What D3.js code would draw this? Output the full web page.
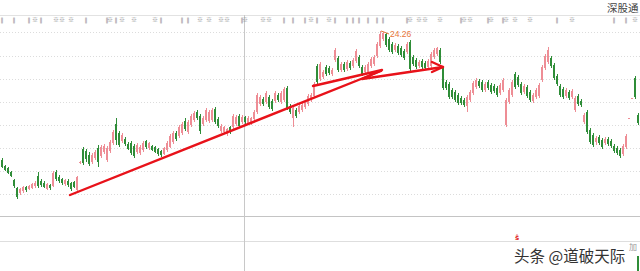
<!DOCTYPE html>
<html>
<head>
<meta charset="utf-8">
<script src="https://cdn.jsdelivr.net/npm/d3@7"></script>
<style>
  body { margin: 0; background: #fff; overflow: hidden; }
  svg { display: block; }
</style>
</head>
<body>
<script>
// daily candles (price scale has no labels, only the 24.26 peak)
const openP = [
  17.81,17.51,17.41,17.21,16.81,16.41,16.16,16.26,16.46,16.36,
  16.41,16.51,17.01,16.76,16.66,16.36,16.56,16.51,17.21,16.96,
  16.86,16.61,16.76,16.66,16.71,16.31,17.66,18.36,18.26,18.06,
  17.71,17.91,18.41,18.01,18.21,17.81,18.26,18.66,19.61,19.16,
  18.76,18.86,18.61,18.66,18.51,18.21,18.16,18.31,18.76,18.41,
  18.51,18.46,18.36,18.26,18.11,18.31,18.46,18.71,19.16,19.01,
  19.16,19.76,19.21,19.56,19.81,20.21,20.01,19.61,19.81,19.76,
  19.81,20.36,19.86,19.26,19.21,19.11,19.46,19.46,19.61,20.01,
  19.71,19.96,19.66,19.66,19.86,20.21,20.61,20.86,20.71,20.96,
  20.76,20.76,21.06,20.71,20.81,21.41,20.51,19.91,20.31,20.21,
  20.31,20.46,20.61,20.81,21.01,22.51,21.86,21.96,22.46,22.41,
  22.11,22.81,22.91,22.31,22.61,22.36,22.66,22.51,22.76,22.96,
  22.46,22.21,22.21,22.51,22.61,23.01,23.51,23.86,24.11,23.86,
  23.61,23.31,23.51,23.41,23.26,23.21,23.71,22.96,22.81,22.51,
  22.76,22.66,22.46,22.51,22.96,23.11,23.31,22.41,21.71,21.61,
  21.31,21.21,21.06,20.91,20.81,20.51,20.81,21.16,21.46,21.76,
  21.71,21.31,21.71,21.56,21.51,21.41,21.16,21.31,19.56,20.71,
  21.06,22.11,21.96,21.61,21.21,21.46,21.21,20.76,20.96,21.01,
  21.81,22.41,22.71,22.91,22.56,22.01,21.51,21.36,21.01,21.21,
  20.96,20.31,21.01,20.76,19.71,20.21,19.31,19.06,18.71,18.96,
  18.81,18.66,18.86,18.76,18.51,18.41,18.31,18.11,18.46,19.91,
  20.91,21.91,20.06
]
const highP = [
  17.91,17.56,17.46,17.26,16.86,16.46,16.41,16.51,16.51,16.56,
  16.66,16.76,17.21,16.86,16.76,16.66,16.61,17.26,17.31,17.06,
  16.91,16.86,16.86,16.71,16.76,17.01,17.76,18.46,18.36,18.21,
  18.16,18.31,18.56,18.56,18.61,18.51,18.81,19.31,19.91,19.26,
  19.16,18.96,18.71,18.76,18.61,18.66,18.56,18.76,18.81,18.71,
  18.56,18.51,18.41,18.31,18.46,18.76,19.11,19.26,19.26,19.56,
  19.71,19.91,19.81,20.11,20.26,20.31,20.11,20.01,20.41,20.31,
  20.41,20.46,19.96,19.61,19.51,19.41,19.51,20.11,20.06,20.11,
  20.06,20.01,20.01,19.96,20.31,21.16,21.06,20.96,21.26,21.06,
  20.86,21.26,21.16,21.26,21.46,21.51,20.61,20.51,20.41,20.61,
  20.66,20.81,21.11,21.16,21.71,22.61,22.71,22.31,22.56,22.51,
  22.41,23.41,23.01,22.71,22.71,22.81,22.76,22.91,23.36,23.06,
  22.56,22.56,22.71,22.96,23.06,23.71,24.26,24.21,24.16,23.96,
  23.71,23.66,23.61,23.51,23.36,23.71,23.81,23.06,22.91,22.81,
  22.86,22.76,22.86,23.21,23.41,23.46,23.41,22.51,21.81,21.71,
  21.41,21.31,21.16,21.01,20.91,21.06,21.31,21.76,21.91,21.86,
  21.81,21.71,21.81,21.66,21.61,21.51,21.66,21.91,20.91,21.41,
  21.81,22.21,22.06,21.71,21.61,21.56,21.31,21.16,21.41,21.66,
  22.56,23.11,23.46,23.01,22.66,22.11,21.61,21.46,21.41,21.31,
  21.36,21.01,21.11,20.86,20.16,20.31,19.41,19.16,19.01,19.06,
  18.91,18.96,18.96,18.86,18.61,18.51,18.41,18.61,19.11,19.91,
  20.91,22.01,20.16
]
const lowP = [
  17.41,17.26,17.11,16.96,16.41,15.86,16.06,16.16,16.21,16.31,
  16.36,16.41,16.41,16.46,16.41,16.31,16.31,16.46,16.76,16.66,
  16.56,16.51,16.46,16.26,16.41,16.26,17.61,17.56,17.71,17.51,
  17.61,17.81,17.46,17.91,18.11,17.71,18.16,18.56,18.56,18.46,
  18.66,18.51,18.31,18.06,17.91,18.11,18.06,18.21,18.36,18.31,
  18.26,18.16,18.01,17.96,18.06,18.21,18.41,18.61,18.76,18.91,
  19.06,19.26,19.11,19.46,19.71,19.81,19.11,19.51,19.71,19.66,
  19.71,19.61,19.41,19.16,19.11,19.01,19.11,19.36,19.51,19.41,
  19.61,19.61,19.56,19.56,19.76,20.11,20.51,20.51,20.61,20.36,
  20.26,20.66,20.71,20.61,20.71,20.31,20.11,19.46,19.91,20.11,
  20.21,20.36,20.51,20.71,20.91,21.61,21.76,21.86,22.01,22.06,
  22.01,22.71,22.21,22.21,22.21,22.26,22.31,22.41,22.66,22.41,
  22.01,22.11,22.11,22.41,22.51,22.91,23.41,23.76,23.46,23.21,
  23.11,23.21,23.06,22.96,22.81,23.11,22.26,22.51,22.36,22.41,
  22.36,22.31,22.36,22.41,22.86,23.01,22.61,21.31,21.31,20.86,
  20.86,20.71,20.56,20.56,20.46,20.21,20.71,21.06,21.36,21.41,
  21.21,21.21,21.31,21.11,21.16,20.96,21.06,21.21,19.46,20.61,
  20.96,21.36,21.46,21.06,21.11,20.91,20.71,20.66,20.86,20.91,
  21.71,22.31,22.61,22.41,21.81,21.51,20.96,20.86,20.91,20.81,
  20.86,20.21,20.51,20.46,19.61,19.11,18.61,18.46,18.56,18.56,
  18.36,18.56,18.51,18.41,18.16,18.06,17.91,18.01,18.36,19.86,
  20.91,20.86,19.56
]
const closeP = [
  17.46,17.31,17.16,17.01,16.51,15.96,16.36,16.46,16.31,16.51,
  16.61,16.66,16.51,16.56,16.46,16.61,16.41,17.16,16.86,16.76,
  16.66,16.81,16.56,16.36,16.46,16.96,17.71,17.66,17.86,17.61,
  18.06,18.21,17.71,18.46,18.51,18.41,18.71,19.21,18.81,18.56,
  19.06,18.61,18.36,18.16,18.01,18.56,18.46,18.66,18.46,18.66,
  18.31,18.21,18.11,18.06,18.41,18.66,19.01,19.16,18.86,19.46,
  19.61,19.36,19.71,20.01,20.16,19.91,19.26,19.91,20.31,20.21,
  20.31,19.71,19.51,19.51,19.46,19.36,19.21,20.01,19.96,19.51,
  19.96,19.71,19.91,19.91,20.21,21.06,20.96,20.61,21.16,20.46,
  20.36,21.16,20.81,21.16,21.36,20.41,20.21,20.41,20.01,20.51,
  20.56,20.71,21.01,21.06,21.61,21.71,22.61,22.21,22.11,22.16,
  22.31,23.31,22.31,22.61,22.31,22.71,22.41,22.81,23.26,22.51,
  22.11,22.46,22.61,22.86,22.96,23.61,24.11,24.16,23.56,23.31,
  23.21,23.56,23.16,23.06,22.91,23.61,22.36,22.61,22.46,22.71,
  22.46,22.41,22.76,23.11,23.31,23.41,22.71,21.41,21.41,20.96,
  20.96,20.81,20.66,20.66,20.56,20.96,21.21,21.66,21.81,21.51,
  21.31,21.61,21.41,21.21,21.26,21.06,21.56,21.81,20.81,21.31,
  21.71,21.46,21.56,21.16,21.51,21.01,20.81,21.06,21.31,21.56,
  22.46,23.01,23.31,22.51,21.91,21.61,21.06,20.96,21.31,20.91,
  21.26,20.91,20.61,20.56,20.06,19.21,18.71,18.56,18.91,18.66,
  18.46,18.86,18.61,18.51,18.26,18.16,18.01,18.51,19.01,19.91,
  20.91,20.96,19.66
]

// horizontal grid levels
const gridLevels = [24.21, 23.03, 21.86, 20.71, 19.56, 18.41, 17.26, 16.11]

// info markers along the top strip (candle index)
const markerBars = [0,4,9,13,28,35,38,53,60,62,80,94,97,101,105,111,115,117,119,122,125,127,135,153,162,167,185,204,208]
const markerStars = [11,18,20,23,36,40,44,51,66,69,73,75,81,87,89,103,109,136,139,141,146,154,156,163,168,171,176,190,211]

// hand-drawn trend lines, [candle index, price]
const trendA = [[22.67, 16.06], [126.33, 22.26]]
const trendB = [[103.67, 21.51], [126.67, 22.31], [120, 21.86], [147, 22.46]]
const arrowB = [[143.33, 22.71], [147, 22.46], [143.33, 22.21]]

const cursorIndex = 80.67
const peakLabel = '24.26'

const w = 640
const h = 271
const n = closeP.length

const upColor = '#ee8d95'
const downColor = '#2f8d38'
const markColor = '#8f8f8f'

const xScale = d3.scaleLinear()
    .domain([0, n - 1])
    .range([2, 2 + 3 * (n - 1)])

const yScale = d3.scaleLinear()
    .domain([12.26, 25.81])
    .range([h, 0])

const svg = d3.select('body')
    .append('svg')
    .attr('width', w)
    .attr('height', h)

// grid
svg.append('g')
    .selectAll('line')
    .data(gridLevels)
    .enter()
    .append('line')
    .attr('x1', 0)
    .attr('x2', w)
    .attr('y1', d => Math.round(yScale(d)) + 0.5)
    .attr('y2', d => Math.round(yScale(d)) + 0.5)
    .style('stroke', '#dcdcdc')
    .style('stroke-dasharray', '1,2')

// top strip line
svg.append('line')
    .attr('x1', 0).attr('x2', w)
    .attr('y1', 15.5).attr('y2', 15.5)
    .style('stroke', '#e2e2e2')

// panel separators
svg.append('line')
    .attr('x1', 0).attr('x2', w)
    .attr('y1', 216.5).attr('y2', 216.5)
    .style('stroke', '#c4c4c4')
svg.append('line')
    .attr('x1', 0).attr('x2', w)
    .attr('y1', 241.5).attr('y2', 241.5)
    .style('stroke', '#dedede')

// cursor line
svg.append('line')
    .attr('x1', Math.round(xScale(cursorIndex)) + 0.5)
    .attr('x2', Math.round(xScale(cursorIndex)) + 0.5)
    .attr('y1', 15).attr('y2', h)
    .style('stroke', '#c8c8c8')

// markers along the top strip
svg.append('g')
    .selectAll('text')
    .data(markerBars)
    .enter()
    .append('text')
    .attr('x', d => xScale(d))
    .attr('y', 21.5)
    .attr('text-anchor', 'middle')
    .style('font', '6px "DejaVu Sans"')
    .style('fill', markColor)
    .text('\u2016')

svg.append('g')
    .selectAll('text')
    .data(markerStars)
    .enter()
    .append('text')
    .attr('x', d => xScale(d))
    .attr('y', 22)
    .attr('text-anchor', 'middle')
    .style('font', '6px "Noto Sans CJK SC"')
    .style('fill', markColor)
    .text('\u203b')

// candles
const idx = d3.range(n)
const isUp = i => closeP[i] >= openP[i]

svg.append('g')
    .selectAll('line')
    .data(idx)
    .enter()
    .append('line')
    .attr('x1', i => Math.round(xScale(i)) + 0.5)
    .attr('x2', i => Math.round(xScale(i)) + 0.5)
    .attr('y1', i => yScale(highP[i]))
    .attr('y2', i => yScale(lowP[i]))
    .style('stroke', i => isUp(i) ? upColor : downColor)

svg.append('g')
    .selectAll('rect')
    .data(idx)
    .enter()
    .append('rect')
    .attr('x', i => Math.round(xScale(i)) - 1)
    .attr('width', 2)
    .attr('y', i => yScale(Math.max(openP[i], closeP[i])))
    .attr('height', i => Math.max(1, Math.abs(yScale(openP[i]) - yScale(closeP[i]))))
    .style('fill', i => isUp(i) ? upColor : downColor)

// peak label
const peakI = d3.maxIndex(highP)
const px = xScale(peakI)
const py = yScale(highP[peakI])
svg.append('polyline')
    .attr('points', [[px + 1, py], [px + 4, py + 1], [px + 9, py + 3]].join(' '))
    .style('fill', 'none')
    .style('stroke', '#e8773a')
svg.append('text')
    .attr('x', px + 10)
    .attr('y', py + 6)
    .style('font', '8.5px "Liberation Sans"')
    .style('fill', '#e8773a')
    .text(peakLabel)

// trend lines
const line = d3.line()
    .x(d => xScale(d[0]))
    .y(d => yScale(d[1]))

;[trendA, trendB, arrowB].forEach(pts => {
    svg.append('path')
        .attr('d', line(pts))
        .style('fill', 'none')
        .style('stroke', '#e8121a')
        .style('stroke-width', 2.4)
        .style('stroke-linejoin', 'round')
        .style('stroke-linecap', 'round')
})

// title, top right
svg.append('text')
    .attr('x', 607)
    .attr('y', 12)
    .style('font', '10.5px "Noto Sans CJK SC"')
    .style('fill', '#444')
    .text('深股通')

// small red signal in lower panel
svg.append('text')
    .attr('x', 515)
    .attr('y', 240)
    .style('font', 'bold 7px "DejaVu Sans"')
    .style('fill', '#e02020')
    .text('\u015d')

// lower panel last bar
svg.append('rect')
    .attr('x', Math.round(xScale(n - 1)) - 1)
    .attr('y', 256)
    .attr('width', 2)
    .attr('height', h - 256)
    .style('fill', downColor)

svg.append('text')
    .attr('x', 629)
    .attr('y', 250)
    .style('font', '8px "Noto Sans CJK SC"')
    .style('fill', '#999')
    .text('加')

// watermark
svg.append('text')
    .attr('x', 514)
    .attr('y', 262)
    .style('font', '15.5px "Noto Sans CJK SC"')
    .style('fill', '#333')
    .style('stroke', '#fff')
    .style('stroke-width', 2)
    .style('paint-order', 'stroke')
    .text('头条 @道破天际')
</script>
</body>
</html>
